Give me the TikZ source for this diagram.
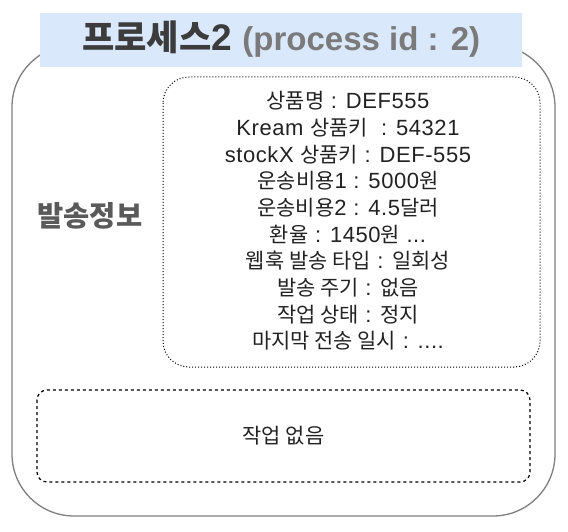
\documentclass[tikz,border=0pt]{standalone}
\usepackage{fontspec}
\setmainfont{Liberation Sans}[LetterSpace=2.5]
\newfontfamily\titlefont{Liberation Sans}
\newfontfamily\kr{Noto Sans CJK KR}[Scale=0.95]
\newcommand\K[1]{{\kr #1}}
\definecolor{titlefill}{HTML}{DAE8FC}
\definecolor{outerline}{HTML}{7F7F7F}
\definecolor{txt}{HTML}{222222}
\definecolor{darktitle}{HTML}{3C3C3C}
\definecolor{graytitle}{HTML}{7A7A7A}
\definecolor{sendcol}{HTML}{5A5A5A}
\begin{document}
\begin{tikzpicture}[x=1pt,y=-1pt,
  outerbox/.style={draw=outerline,line width=1.3pt,rounded corners=62pt},
  infobox/.style={draw=black,dotted,line width=1pt,rounded corners=26pt},
  jobbox/.style={draw=black,dashed,line width=1.2pt,rounded corners=10pt},
  body/.style={text=txt,font=\fontsize{22}{26.7}\selectfont,align=center,inner sep=0pt}]
\useasboundingbox (0,0) rectangle (568,532);
\draw[outerbox] (12,45) rectangle (555,516);
\node[fill=titlefill,minimum width=482pt,minimum height=54pt,inner sep=0pt,anchor=north west] (title) at (40,13) {};
\node[inner sep=0pt] (titletext) at ([yshift=1pt]title.center) {\titlefont\color{darktitle}\fontsize{37}{42}\selectfont\bfseries\K{프로세스}2 \fontsize{33}{38}\selectfont\color{graytitle}(process id : 2)};
\node[text=sendcol,font=\fontsize{30}{34}\selectfont\bfseries,inner sep=0pt] (send) at (90,216) {\K{발송정보}};
\draw[infobox] (163,77) rectangle (540,367);
\node[body] (info) at (348,221) {\K{상품명} : DEF555\\Kream \K{상품키} \ : 54321\\stockX \K{상품키} : DEF-555\\\K{운송비용}1 : 5000\K{원}\\\K{운송비용}2 : 4.5\K{달러}\\\K{환율} : 1450\K{원} ...\\\K{웹훅 발송 타입} : \K{일회성}\\\K{발송 주기} : \K{없음}\\\K{작업 상태} : \K{정지}\\\K{마지막 전송 일시} : ....};
\draw[jobbox] (37,390) rectangle (530,482);
\node[body] (job) at (283.5,436) {\K{작업 없음}};
\end{tikzpicture}
\end{document}
